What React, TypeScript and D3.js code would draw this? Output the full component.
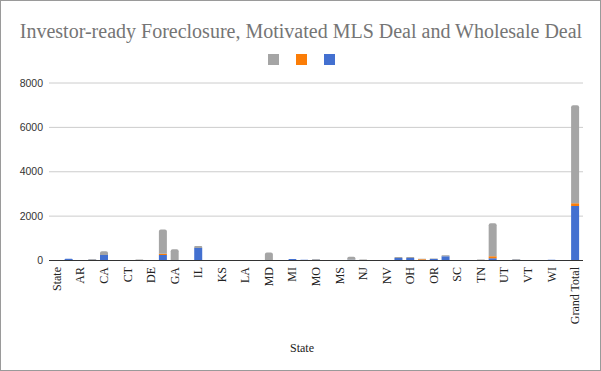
import React from "react";
import * as d3 from "d3";

const states = [
  "State", "AL", "AR", "AZ", "CA", "CO", "CT", "DC", "DE", "FL", "GA", "ID", "IL", "IN", "KS",
  "KY", "LA", "MA", "MD", "ME", "MI", "MN", "MO", "MT", "MS", "NC", "NJ", "NM", "NV", "NY",
  "OH", "OK", "OR", "PA", "SC", "SD", "TN", "TX", "UT", "VA", "VT", "WA", "WI", "WV", "Grand Total",
];

// bottom of the stack
const wholesale = [
  0, 80, 0, 30, 250, 0, 0, 0, 0, 250, 0, 0, 560, 25, 0,
  0, 25, 0, 0, 0, 70, 30, 30, 0, 0, 30, 0, 25, 25, 110,
  110, 0, 70, 190, 0, 0, 0, 100, 0, 35, 0, 0, 30, 0, 2455,
];
// middle
const motivated = [
  0, 0, 0, 0, 0, 0, 0, 0, 0, 50, 0, 0, 0, 0, 0,
  0, 0, 0, 0, 0, 0, 0, 0, 0, 0, 0, 0, 0, 0, 0,
  0, 60, 0, 0, 0, 0, 0, 90, 0, 0, 0, 0, 0, 0, 120,
];
// top
const foreclosure = [
  0, 0, 0, 40, 170, 0, 0, 40, 0, 1100, 510, 0, 90, 0, 0,
  0, 0, 0, 365, 0, 0, 0, 35, 0, 0, 140, 40, 0, 0, 50,
  50, 20, 15, 50, 0, 0, 40, 1490, 0, 35, 0, 0, 0, 0, 4425,
];

const yTicks = [0, 2000, 4000, 6000, 8000];
const keys = ["wholesale", "motivated", "foreclosure"];
const colors: Record<string, string> = {
  wholesale: "#4370d0",
  motivated: "#fb7d07",
  foreclosure: "#a5a5a5",
};
const legendKeys = ["foreclosure", "motivated", "wholesale"];

const W = 601, H = 371;
const left = 51, right = 581, top = 83, bottom = 260.5;

export default function App() {
  const rows = states.map((s, i) => ({
    state: s,
    wholesale: wholesale[i],
    motivated: motivated[i],
    foreclosure: foreclosure[i],
  }));

  const x = d3.scaleBand<string>().domain(states).range([left, right]).padding(0);
  const y = d3.scaleLinear().domain([0, 8000]).range([bottom, top]);
  const series = d3.stack<any>().keys(keys)(rows);
  const barW = 8;

  // topmost non-empty key per row, to round its corners
  const topKey = rows.map((r: any) => {
    let k = "";
    keys.forEach((key) => { if (r[key] > 0) k = key; });
    return k;
  });

  const segPath = (x0: number, y0: number, y1: number, rounded: boolean) => {
    const h = y0 - y1;
    const r = rounded ? Math.min(2, h / 2, barW / 2) : 0;
    const x1 = x0 + barW;
    return `M${x0},${y0}V${y1 + r}Q${x0},${y1} ${x0 + r},${y1}H${x1 - r}Q${x1},${y1} ${x1},${y1 + r}V${y0}Z`;
  };

  return (
    <svg width={W} height={H} style={{ position: "absolute", left: 0, top: 0, background: "#fff" }}>
      <rect x={0.5} y={0.5} width={W - 1} height={H - 1} fill="#fff" stroke="#9a9a9a" />
      <text x={301} y={38} textAnchor="middle" fontFamily="Liberation Serif, Times New Roman, serif"
        fontSize={20} fill="#757575">
        Investor-ready Foreclosure, Motivated MLS Deal and Wholesale Deal
      </text>
      {legendKeys.map((k, i) => (
        <rect key={k} x={268 + i * 28} y={54} width={11} height={11} fill={colors[k]} />
      ))}
      {yTicks.map((t) => (
        <g key={t}>
          {t > 0 && <line x1={49} x2={583} y1={y(t)} y2={y(t)} stroke="#cccccc" strokeWidth={1} />}
          <text x={43} y={y(t)} dy="0.35em" textAnchor="end" fontFamily="Liberation Sans, Arial, sans-serif"
            fontSize={10.5} fill="#333">{t}</text>
        </g>
      ))}
      {series.map((s) => (
        <g key={s.key} fill={colors[s.key]}>
          {s.map((d, i) => {
            if (d[1] - d[0] <= 0) return null;
            const cx = (x(states[i]) as number) + x.bandwidth() / 2;
            return (
              <path key={i} d={segPath(cx - barW / 2, y(d[0]), y(d[1]), topKey[i] === s.key)} />
            );
          })}
        </g>
      ))}
      <line x1={49} x2={583} y1={bottom} y2={bottom} stroke="#333" strokeWidth={1} />
      {states.map((s, i) => {
        if (i % 2 !== 0) return null;
        const cx = (x(s) as number) + x.bandwidth() / 2;
        return (
          <text key={s} transform={`translate(${cx + 4},267) rotate(-90)`} textAnchor="end"
            fontFamily="Liberation Serif, Times New Roman, serif" fontSize={12} fill="#222">{s}</text>
        );
      })}
      <text x={302} y={352} textAnchor="middle" fontFamily="Liberation Serif, Times New Roman, serif"
        fontSize={12} fill="#222">State</text>
    </svg>
  );
}
